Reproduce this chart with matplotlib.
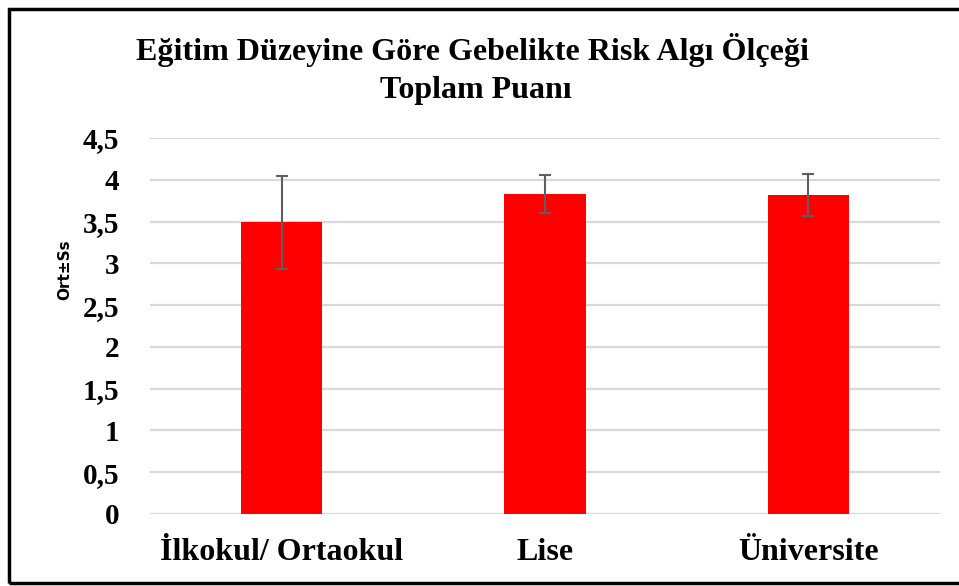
import numpy as np
import matplotlib.pyplot as plt
from matplotlib.patches import Rectangle

# egitim duzeyi gruplari, ortalama ve standart sapma
groups = ["İlkokul/ Ortaokul", "Lise", "Üniversite"]
means = [3.49, 3.83, 3.82]
sds = [0.56, 0.23, 0.25]
yticks = [0, 0.5, 1, 1.5, 2, 2.5, 3, 3.5, 4, 4.5]
ytick_labels = ["0", "0,5", "1", "1,5", "2", "2,5", "3", "3,5", "4", "4,5"]

W, H = 959, 586
fig = plt.figure(figsize=(W / 100, H / 100), dpi=100)
ax = fig.add_axes([150 / W, 1 - 514 / H, 790 / W, 376 / H])

x = np.arange(len(groups))
ax.bar(x, means, width=0.31, color="#ff0000", zorder=3)
ax.errorbar(x, means, yerr=sds, fmt="none", ecolor="#5f5f5f", elinewidth=1.5,
            capsize=4.5, capthick=1.5, zorder=4)

ax.set_xlim(-0.5, 2.5)
ax.set_ylim(0, 4.5)
ax.set_yticks(yticks)
ax.set_yticklabels(ytick_labels, fontfamily="Liberation Serif", fontweight="bold", fontsize=21)
ax.set_xticks(x)
ax.set_xticklabels(groups, fontfamily="Liberation Serif", fontweight="bold", fontsize=23)
ax.tick_params(axis="both", length=0)
ax.tick_params(axis="y", pad=22)
ax.tick_params(axis="x", pad=17)
ax.yaxis.grid(True, color="#d9d9d9", linewidth=1.6, zorder=0)
for s in ax.spines.values():
    s.set_visible(False)

ax.set_ylabel("Ort±Ss", fontfamily="DejaVu Sans", fontweight="bold", fontsize=11)
ax.yaxis.set_label_coords(-0.098, 0.649)

fig.text(0.493, 1 - 50 / H, "Eğitim Düzeyine Göre Gebelikte Risk Algı Ölçeği",
         ha="center", va="center", fontfamily="Liberation Serif", fontweight="bold", fontsize=23)
fig.text(0.496, 1 - 90 / H, "Toplam Puanı",
         ha="center", va="center", fontfamily="Liberation Serif", fontweight="bold", fontsize=23)

# cerceve
fig.patches.append(Rectangle((9 / W, 3 / H), 1.05, 574 / H, transform=fig.transFigure,
                             fill=False, edgecolor="black", linewidth=2.5))

fig.savefig("out.png", dpi=100)
